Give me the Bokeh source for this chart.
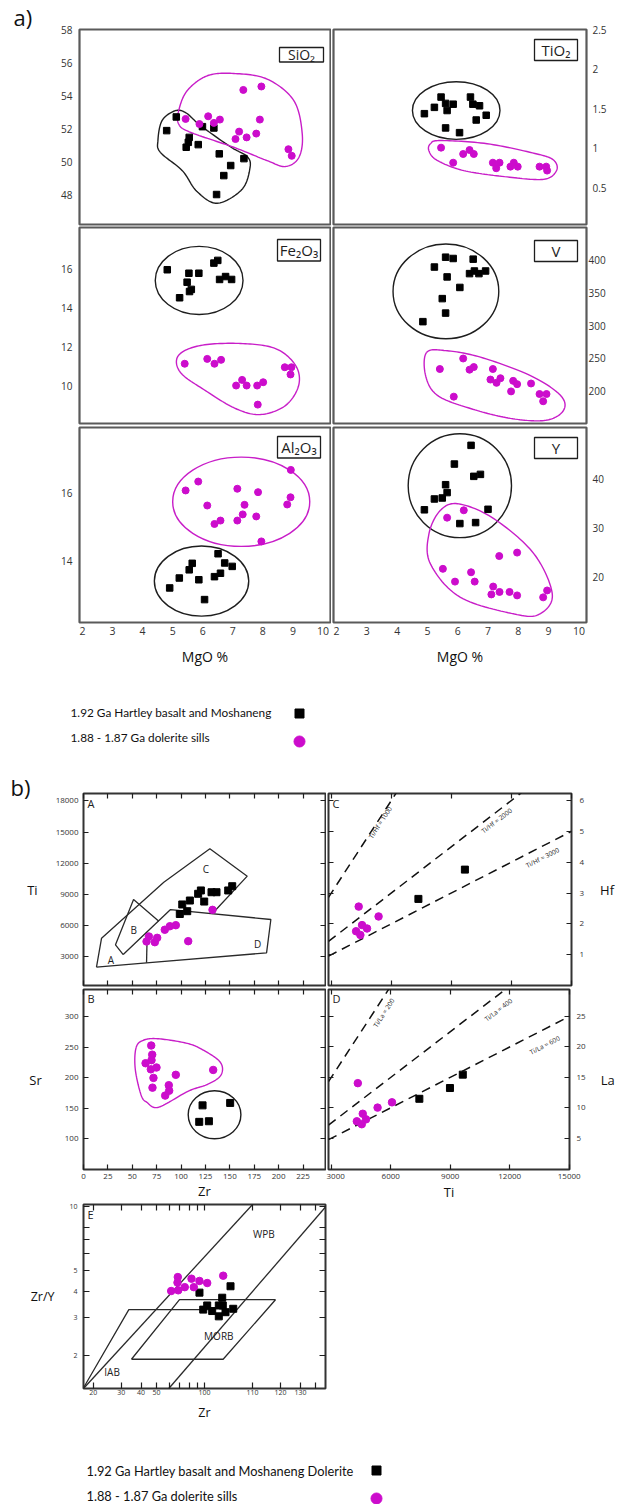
import math
import numpy as np
from bokeh.plotting import figure
from bokeh.models import Range1d, FixedTicker, LinearAxis, LogAxis, Label, BoxAnnotation
from bokeh.layouts import column, row
from bokeh.embed import file_html
from bokeh.resources import INLINE
from bokeh.core.properties import value

FONT = "Open Sans"
LEG_FONT = "Lato"
MAG = "#cc0ccc"
MAG_LINE = "#c81ec8"
INK = "#1e1e1e"
FRAME_A = "#5a5a5a"
FRAME_B = "#333333"

# ===================== a) oxides / trace elements vs MgO % =====================
MGO_RANGE = (1.9, 10.25)
MGO_TICKS = [2, 3, 4, 5, 6, 7, 8, 9, 10]

sio2_blk_mgo = [4.80, 5.12, 5.55, 5.52, 5.45, 5.85, 5.99, 6.37, 6.55, 6.93, 6.70, 7.37, 6.46]
sio2_blk = [51.88, 52.71, 51.47, 51.17, 50.87, 51.03, 52.12, 52.04, 50.47, 49.76, 49.15, 50.18, 48.00]
sio2_mag_mgo = [5.43, 5.89, 6.18, 6.37, 6.57, 7.35, 7.95, 7.21, 7.09, 7.46, 7.78, 7.90, 8.85, 8.96]
sio2_mag = [52.59, 52.28, 52.75, 52.35, 52.55, 54.35, 54.56, 51.82, 51.37, 51.47, 51.70, 52.55, 50.75, 50.35]
sio2_blk_env_x = [5.09, 5.45, 5.93, 6.92, 7.48, 7.57, 7.30, 6.48, 5.80, 5.32, 4.59, 4.51, 4.65]
sio2_blk_env_y = [53.09, 52.95, 52.18, 50.90, 50.30, 49.60, 48.30, 47.47, 48.20, 49.45, 50.56, 51.30, 52.50]
sio2_mag_env_x = [5.20, 5.59, 7.03, 8.14, 8.75, 9.20, 9.31, 9.03, 8.14, 7.03, 6.15, 5.48, 5.20]
sio2_mag_env_y = [52.28, 51.78, 50.87, 50.06, 49.70, 50.26, 51.68, 53.70, 55.01, 55.35, 55.21, 54.30, 53.09]
sio2_ticks = [48, 50, 52, 54, 56, 58]

tio2_blk_mgo = [4.90, 5.23, 5.45, 5.60, 5.85, 5.65, 5.60, 6.06, 6.42, 6.50, 6.72, 6.94, 6.61]
tio2_blk = [1.44, 1.52, 1.65, 1.57, 1.56, 1.48, 1.26, 1.20, 1.65, 1.56, 1.54, 1.42, 1.36]
tio2_mag_mgo = [5.45, 5.85, 6.18, 6.39, 6.53, 7.16, 7.27, 7.38, 7.74, 7.85, 7.98, 8.70, 8.92, 8.95]
tio2_mag = [1.01, 0.82, 0.93, 0.98, 0.93, 0.82, 0.75, 0.82, 0.77, 0.82, 0.77, 0.77, 0.77, 0.72]
tio2_blk_ell = (5.95, 1.48, 2.89, 0.73)
tio2_mag_env_x = [5.10, 5.43, 6.97, 8.62, 9.17, 9.26, 8.84, 7.63, 6.20, 5.32, 5.05]
tio2_mag_env_y = [1.06, 1.10, 1.06, 0.93, 0.85, 0.72, 0.61, 0.64, 0.72, 0.85, 0.97]
tio2_ticks = [0.5, 1.0, 1.5, 2.0, 2.5]
tio2_tick_labels = ["0.5", "1", "1.5", "2", "2.5"]

fe_blk_mgo = [4.82, 5.23, 5.48, 5.54, 5.87, 5.56, 5.62, 6.37, 6.50, 6.56, 6.76, 6.96]
fe_blk = [15.95, 14.51, 15.31, 15.77, 15.77, 14.83, 14.94, 16.29, 16.43, 15.45, 15.60, 15.45]
fe_mag_mgo = [5.40, 6.15, 6.39, 6.61, 7.31, 7.11, 7.46, 7.81, 8.01, 8.73, 8.95, 8.92, 7.83]
fe_mag = [11.12, 11.37, 11.12, 11.32, 10.29, 10.00, 10.00, 10.00, 10.17, 10.94, 10.94, 10.57, 9.02]
fe_blk_ell = (5.88, 15.40, 2.92, 3.50)
fe_mag_env_x = [5.19, 5.93, 7.26, 8.42, 9.09, 9.19, 8.75, 7.92, 7.09, 6.09, 5.26]
fe_mag_env_y = [11.54, 12.06, 12.16, 11.90, 11.03, 10.00, 8.97, 8.51, 8.82, 9.74, 10.67]
fe_ticks = [10, 12, 14, 16]

v_blk_mgo = [4.85, 5.23, 5.49, 5.60, 5.65, 5.60, 5.85, 6.07, 6.51, 6.39, 6.55, 6.70, 6.92]
v_blk = [306, 389, 341, 319, 374, 404, 402, 358, 401, 379, 383, 379, 383]
v_mag_mgo = [5.41, 6.18, 6.39, 6.53, 7.16, 7.08, 7.28, 7.41, 7.83, 7.96, 7.76, 8.42, 8.70, 8.93, 5.87, 8.82]
v_mag = [234, 250, 233, 237, 234, 218, 213, 220, 216, 211, 200, 212, 196, 196, 192, 185]
v_blk_ell = (5.61, 352, 3.49, 144)
v_mag_env_x = [4.97, 5.60, 6.75, 8.40, 9.39, 9.49, 8.90, 7.74, 6.42, 5.33, 4.94]
v_mag_env_y = [259, 262, 252, 224, 194, 171, 156, 159, 174, 194, 224]
v_ticks = [200, 250, 300, 350, 400]

al_blk_mgo = [4.90, 5.22, 5.55, 5.65, 5.87, 6.06, 6.39, 6.51, 6.59, 6.73, 6.98]
al_blk = [13.22, 13.51, 13.75, 13.94, 13.46, 12.88, 13.55, 14.22, 13.65, 13.95, 13.85]
al_mag_mgo = [5.43, 5.85, 6.15, 6.39, 6.59, 7.15, 7.15, 7.33, 7.39, 7.78, 7.84, 7.95, 8.81, 8.92, 8.93]
al_mag = [16.07, 16.33, 15.63, 15.09, 15.19, 16.12, 15.19, 15.37, 15.65, 15.31, 16.02, 14.58, 15.66, 15.87, 16.67]
al_blk_ell = (5.96, 13.42, 3.14, 2.05)
al_mag_ell = (7.28, 15.74, 4.56, 2.61)
al_ticks = [14, 16]

y_blk_mgo = [4.90, 5.23, 5.49, 5.60, 5.65, 5.89, 6.07, 6.44, 6.53, 6.75, 6.59, 7.00]
y_blk = [33.7, 35.9, 36.1, 38.8, 37.2, 43.0, 30.9, 46.8, 40.5, 40.9, 31.1, 33.8]
y_mag_mgo = [5.65, 6.20, 5.51, 5.91, 6.44, 6.56, 7.37, 7.96, 7.17, 7.11, 7.38, 7.71, 7.96, 8.82, 8.95]
y_mag = [32.1, 33.6, 21.7, 19.1, 21.0, 19.1, 24.3, 25.0, 18.1, 16.5, 17.0, 17.0, 16.3, 15.9, 17.3]
y_blk_ell = (6.07, 38.6, 3.41, 21.1)
y_mag_env_x = [6.04, 7.19, 8.51, 9.12, 8.73, 7.96, 6.09, 5.10, 5.05, 5.43]
y_mag_env_y = [34.9, 31.9, 24.8, 16.6, 12.6, 12.4, 15.9, 22.7, 28.8, 33.6]
y_ticks = [20, 30, 40]

legend_a_labels = ["1.92 Ga Hartley basalt and Moshaneng", "1.88 - 1.87 Ga dolerite sills"]

# ===================== b) discrimination diagrams =====================
ZR_RANGE = (0, 248)
zr_ticks = [0, 25, 50, 75, 100, 125, 150, 175, 200, 225]
TI_Y_RANGE = (203, 18723)
ti_y_ticks = [3000, 6000, 9000, 12000, 15000, 18000]
TI_X_RANGE = (2860, 15015)
ti_x_ticks = [3000, 6000, 9000, 12000, 15000]
HF_RANGE = (0, 6.23)
hf_ticks = [1, 2, 3, 4, 5, 6]
SR_RANGE = (50, 344.7)
sr_ticks = [100, 150, 200, 250, 300]
LA_RANGE = (-0.14, 29.44)
la_ticks = [5, 10, 15, 20, 25]

# A: Ti vs Zr
a_blk_zr = [98.7, 106.3, 101.2, 109.0, 117.5, 120.3, 123.7, 131.2, 136.3, 148.3, 152.4]
a_blk_ti = [7100, 7370, 8020, 8400, 9050, 9370, 8300, 9200, 9200, 9370, 9780]
a_mag_zr = [64.6, 67.0, 73.1, 75.5, 83.3, 88.5, 94.6, 107.3, 132.2]
a_mag_ti = [4450, 4930, 4380, 4800, 5580, 5920, 6020, 4480, 7500]
fieldA_xs = [[13.3, 18.5, 82.3, 129.5, 167.8, 133.3],
             [13.3, 64.6, 187.6, 192.0, 89.2, 40.7],
             [64.6, 65.3],
             [40.7, 32.8, 51.3, 77.2]]
fieldA_ys = [[1970, 4770, 10170, 13390, 10750, 7270],
             [1970, 2390, 3350, 6570, 7530, 3190],
             [2390, 5290],
             [3190, 4130, 8500, 6400]]
fieldA_names = ["A", "B", "C", "D"]
fieldA_name_zr = [28.0, 51.6, 125.4, 178.4]
fieldA_name_ti = [2680, 5575, 11460, 4225]

# B: Sr vs Zr
b_mag_zr = [69.4, 70.4, 69.7, 63.6, 69.0, 74.8, 71.7, 70.7, 87.4, 87.8, 83.7, 94.6, 132.9]
b_mag_sr = [253, 238, 229, 224, 214, 217, 200, 184, 188, 179, 171, 205, 213]
b_blk_zr = [122.0, 118.6, 128.5, 150.3]
b_blk_sr = [155, 128, 129, 159]
b_blk_ell = (134.3, 139.6, 54, 78.5)
b_mag_env_x = [54, 62, 77, 105, 121, 140, 141, 128, 107, 77, 65, 59, 53]
b_mag_env_y = [250, 262, 264, 257, 247, 226, 205, 190, 178, 152, 160, 172, 215]

# C: Hf vs Ti
c_mag_ti = [4370, 5365, 4538, 4787, 4240, 4454]
c_mag_hf = [2.56, 2.24, 1.96, 1.85, 1.76, 1.64]
c_blk_ti = [7357, 9683]
c_blk_hf = [2.81, 3.76]
hf_ratios = [1000, 2000, 3000]
hf_ratio_label_ti = [5450, 11276, 13567]
hf_ratio_label_hf = [5.29, 5.35, 4.15]

# D: La vs Ti
d_mag_ti = [4339, 6062, 5335, 4588, 4752, 4289, 4538]
d_mag_la = [14.05, 10.9, 10.03, 9.02, 8.1, 7.78, 7.3]
d_blk_ti = [7442, 8986, 9633]
d_blk_la = [11.48, 13.25, 15.45]
la_ratios = [200, 400, 600]
la_ratio_label_ti = [5649, 11426, 13766]
la_ratio_label_la = [25.6, 26.1, 20.3]

# E: Zr/Y vs Zr (log-log)
E_X_RANGE = (17.4, 575)
E_Y_RANGE = (1.4, 10.2)
e_x_ticks = [20, 30, 40, 50, 60, 70, 80, 90, 100, 200, 300, 400, 500]
e_x_tick_labels = ["20", "30", "40", "50", "", "", "", "", "100", "110", "120", "130", ""]
e_y_ticks = [2, 3, 4, 5, 6, 7, 8, 10]
e_y_tick_labels = ["2", "3", "4", "5", "", "", "", "10"]
e_mag_zr = [61.8, 68.0, 68.4, 67.7, 75.2, 82.9, 85.7, 93.0, 104.0, 131.1]
e_mag_zry = [4.01, 4.66, 4.04, 4.39, 4.18, 4.58, 4.18, 4.47, 4.37, 4.73]
e_blk_zr = [93.0, 98.2, 104.0, 111.8, 123.0, 129.2, 130.3, 123.0, 135.5, 151.5, 145.7]
e_blk_zry = [3.94, 3.28, 3.43, 3.23, 3.43, 3.73, 3.43, 3.05, 3.19, 3.31, 4.22]
fieldE_xs = [[17.4, 201], [59.7, 575], [17.3, 33.5, 106.5], [34.8, 69.7, 279, 131, 34.8]]
fieldE_ys = [[1.4, 10.23], [1.4, 9.93], [1.4, 3.28, 3.28], [1.92, 3.65, 3.65, 1.92, 1.92]]
fieldE_names = ["WPB", "MORB", "IAB"]
fieldE_name_zr = [236, 123, 26.3]
fieldE_name_zry = [7.38, 2.46, 1.67]

legend_b_labels = ["1.92 Ga Hartley basalt and Moshaneng Dolerite", "1.88 - 1.87 Ga dolerite sills"]


# ===================== helpers =====================
def smooth_closed(xs, ys, n=16):
    P = np.column_stack([xs, ys]).astype(float)
    m = len(P)
    out = []
    for i in range(m):
        p0, p1, p2, p3 = P[(i - 1) % m], P[i], P[(i + 1) % m], P[(i + 2) % m]
        for t in np.linspace(0, 1, n, endpoint=False):
            out.append(0.5 * ((2 * p1) + (-p0 + p2) * t + (2 * p0 - 5 * p1 + 4 * p2 - p3) * t * t
                              + (-p0 + 3 * p1 - 3 * p2 + p3) * t ** 3))
    out.append(out[0])
    out = np.array(out)
    return out[:, 0], out[:, 1]


def frame_xy(xr, yr, fw, fh, dx, dy, xlog=False, ylog=False):
    if xlog:
        l0, l1 = math.log10(xr[0]), math.log10(xr[1])
        x = 10 ** (l0 + dx / fw * (l1 - l0))
    else:
        x = xr[0] + dx / fw * (xr[1] - xr[0])
    if ylog:
        l0, l1 = math.log10(yr[0]), math.log10(yr[1])
        y = 10 ** (l1 - dy / fh * (l1 - l0))
    else:
        y = yr[1] - dy / fh * (yr[1] - yr[0])
    return x, y


def new_fig(w, h, xr, yr, mb, xlog=False, ylog=False):
    p = figure(width=w, height=h, x_range=Range1d(*xr), y_range=Range1d(*yr),
               x_axis_type="log" if xlog else "linear", y_axis_type="log" if ylog else "linear",
               x_axis_location=None, y_axis_location=None,
               toolbar_location=None, output_backend="svg",
               min_border_left=mb[0], min_border_right=mb[1], min_border_top=mb[2], min_border_bottom=mb[3],
               background_fill_color="white", border_fill_color="white")
    p.xgrid.visible = False
    p.ygrid.visible = False
    return p


def add_axis(p, side, ticks, show=True, font_size="10px", standoff=5, tick_in=0, tick_labels=None,
             label=None, label_size="13px", label_standoff=5, horizontal=False, log=False):
    cls = LogAxis if log else LinearAxis
    ax = cls(ticker=FixedTicker(ticks=ticks, minor_ticks=[]))
    ax.major_tick_in = tick_in
    ax.major_tick_out = 0
    ax.minor_tick_in = 0
    ax.minor_tick_out = 0
    ax.major_tick_line_color = INK
    ax.major_tick_line_width = 1.2
    ax.axis_line_color = None
    if show:
        ax.major_label_text_font = FONT
        ax.major_label_text_font_size = font_size
        ax.major_label_text_color = "#333333"
        ax.major_label_standoff = standoff
        if tick_labels is not None:
            ax.major_label_overrides = {float(t): s for t, s in zip(ticks, tick_labels)}
    else:
        ax.major_label_text_font_size = "0px"
        ax.major_label_text_color = None
        ax.major_label_standoff = 0
    if label:
        ax.axis_label = label
        ax.axis_label_text_font = FONT
        ax.axis_label_text_font_size = label_size
        ax.axis_label_text_font_style = "normal"
        ax.axis_label_text_color = "#111111"
        ax.axis_label_standoff = label_standoff
        if horizontal:
            ax.axis_label_orientation = "horizontal"
    p.add_layout(ax, side)
    return ax


def panel_title(p, text, offset, standoff):
    p.title.text = text
    p.title.text_font = FONT
    p.title.text_font_size = "22px"
    p.title.text_font_style = "normal"
    p.title.text_color = "#111111"
    p.title.align = "left"
    p.title.offset = offset
    p.title.standoff = standoff
    p.title.vertical_align = "bottom"


def a_panel(w, h, mb, yr, yticks, side, standoff, blk, mag, envs, box, bottom=False, tick_labels=None):
    p = new_fig(w, h, MGO_RANGE, yr, mb)
    p.outline_line_color = FRAME_A
    p.outline_line_width = 2.2
    add_axis(p, side, yticks, font_size="10px", standoff=standoff, tick_labels=tick_labels)
    if bottom:
        add_axis(p, "below", MGO_TICKS, font_size="10.5px", standoff=4, label="MgO %",
                 label_size="14px", label_standoff=9)
    for kind, color, data in envs:
        if kind == "ell":
            cx, cy, ew, eh = data
            p.ellipse(x=[cx], y=[cy], width=[ew], height=[eh], fill_color=None,
                      line_color=color, line_width=1.4)
        else:
            xs, ys = smooth_closed(*data)
            p.line(xs, ys, line_color=color, line_width=1.4)
    p.scatter(blk[0], blk[1], marker="square", size=6.5, color="black")
    p.scatter(mag[0], mag[1], marker="circle", size=7, color=MAG)
    fw = w - mb[0] - mb[1]
    fh = h - mb[2] - mb[3]
    text, rin, tin, bw, bh, fs = box
    x1, y1 = frame_xy(MGO_RANGE, yr, fw, fh, fw - rin, tin)
    x0, y0 = frame_xy(MGO_RANGE, yr, fw, fh, fw - rin - bw, tin + bh)
    p.add_layout(BoxAnnotation(left=x0, right=x1, bottom=y0, top=y1, fill_color="white", fill_alpha=1.0,
                               line_color=INK, line_alpha=1.0, line_width=1.3))
    p.add_layout(Label(x=(x0 + x1) / 2, y=(y0 + y1) / 2, text=text, text_align="center",
                       text_baseline="middle", text_font=FONT, text_font_size=fs, text_color=INK))
    return p


def canvas(w, h):
    p = figure(width=w, height=h, x_range=Range1d(0, w), y_range=Range1d(0, h),
               x_axis_location=None, y_axis_location=None, toolbar_location=None,
               output_backend="svg", min_border=0, outline_line_color=None)
    p.xgrid.visible = False
    p.ygrid.visible = False
    return p


# ===================== a) panels =====================
LW, RW = 331, 286
MB_L1, MB_R1 = (79, 1, 29, 2), (2, 31, 29, 2)
MB_L2, MB_R2 = (79, 1, 1, 2), (2, 31, 1, 2)
MB_L3, MB_R3 = (79, 1, 2, 68), (2, 31, 2, 68)

f_sio2 = a_panel(LW, 226, MB_L1, (46.18, 58.02), sio2_ticks, "left", 7,
                 (sio2_blk_mgo, sio2_blk), (sio2_mag_mgo, sio2_mag),
                 [("poly", INK, (sio2_blk_env_x, sio2_blk_env_y)),
                  ("poly", MAG_LINE, (sio2_mag_env_x, sio2_mag_env_y))],
                 ("SiO₂", 7, 18, 44, 14.5, "14px"))
panel_title(f_sio2, "a)", -66, -5)

f_tio2 = a_panel(RW, 226, MB_R1, (0.038, 2.505), tio2_ticks, "right", 6,
                 (tio2_blk_mgo, tio2_blk), (tio2_mag_mgo, tio2_mag),
                 [("ell", INK, tio2_blk_ell), ("poly", MAG_LINE, (tio2_mag_env_x, tio2_mag_env_y))],
                 ("TiO₂", 9, 10, 43, 21, "15px"), tick_labels=tio2_tick_labels)

f_fe = a_panel(LW, 199, MB_L2, (8.05, 18.12), fe_ticks, "left", 7,
               (fe_blk_mgo, fe_blk), (fe_mag_mgo, fe_mag),
               [("ell", INK, fe_blk_ell), ("poly", MAG_LINE, (fe_mag_env_x, fe_mag_env_y))],
               ("Fe₂O₃", 10, 12, 43, 21.5, "15px"))

f_v = a_panel(RW, 199, MB_R2, (151.2, 449.1), v_ticks, "right", 2,
              (v_blk_mgo, v_blk), (v_mag_mgo, v_mag),
              [("ell", INK, v_blk_ell), ("poly", MAG_LINE, (v_mag_env_x, v_mag_env_y))],
              ("V", 9, 13, 43, 21, "15px"))

f_al = a_panel(LW, 265, MB_L3, (12.21, 17.91), al_ticks, "left", 7,
               (al_blk_mgo, al_blk), (al_mag_mgo, al_mag),
               [("ell", INK, al_blk_ell), ("ell", MAG_LINE, al_mag_ell)],
               ("Al₂O₃", 10, 9, 43, 21.5, "15px"), bottom=True)

f_y = a_panel(RW, 265, MB_R3, (10.79, 50.43), y_ticks, "right", 6,
              (y_blk_mgo, y_blk), (y_mag_mgo, y_mag),
              [("ell", INK, y_blk_ell), ("poly", MAG_LINE, (y_mag_env_x, y_mag_env_y))],
              ("Y", 9, 10, 43, 21, "15px"), bottom=True)

# legend a)   (page rows 690 .. 768)
leg_a = canvas(617, 78)
leg_a.text(x=[70, 70], y=[56, 31], text=legend_a_labels, text_font=value(LEG_FONT),
           text_font_size="11.8px", text_baseline="middle", text_color="#111111")
leg_a.scatter(x=[299], y=[55], marker="square", size=9, color="black")
leg_a.scatter(x=[299], y=[27], marker="circle", size=11, color=MAG)

# ===================== b) panels =====================
BLW, BRW = 326, 291
MB_A, MB_C = (83, 1, 25, 3), (2, 45, 25, 3)
MB_B, MB_D = (83, 1, 1, 30), (2, 45, 1, 30)
TICK_IN = 5


def b_frame(p):
    p.outline_line_color = FRAME_B
    p.outline_line_width = 2


def corner_letter(p, xr, yr, fw, fh, letter, xlog=False, ylog=False):
    x, y = frame_xy(xr, yr, fw, fh, 4, 2, xlog, ylog)
    p.add_layout(Label(x=x, y=y, text=letter, text_baseline="top", text_align="left",
                       text_font=FONT, text_font_size="11px", text_color="#222222"))


# --- A: Ti vs Zr
fA = new_fig(BLW, 220, ZR_RANGE, TI_Y_RANGE, MB_A)
b_frame(fA)
add_axis(fA, "left", ti_y_ticks, font_size="8px", standoff=5, tick_in=TICK_IN,
         label="Ti", label_size="13px", label_standoff=15, horizontal=True)
add_axis(fA, "right", ti_y_ticks, show=False, tick_in=TICK_IN)
add_axis(fA, "below", zr_ticks, show=False, tick_in=TICK_IN)
add_axis(fA, "above", zr_ticks, show=False, tick_in=TICK_IN)
fA.multi_line(fieldA_xs, fieldA_ys, line_color="#2a2a2a", line_width=1.3)
for nm, zx, ty in zip(fieldA_names, fieldA_name_zr, fieldA_name_ti):
    fA.add_layout(Label(x=zx, y=ty, text=nm, text_align="center", text_baseline="middle",
                        text_font=FONT, text_font_size="10px", text_color="#222222"))
fA.scatter(a_blk_zr, a_blk_ti, marker="square", size=7, color="black")
fA.scatter(a_mag_zr, a_mag_ti, marker="circle", size=7.5, color=MAG)
corner_letter(fA, ZR_RANGE, TI_Y_RANGE, 242, 192, "A")
panel_title(fA, "b)", -73, -16)

# --- C: Hf vs Ti
fC = new_fig(BRW, 220, TI_X_RANGE, HF_RANGE, MB_C)
b_frame(fC)
add_axis(fC, "right", hf_ticks, font_size="8px", standoff=8, tick_in=TICK_IN,
         label="Hf", label_size="13px", label_standoff=13, horizontal=True)
add_axis(fC, "left", hf_ticks, show=False, tick_in=TICK_IN)
add_axis(fC, "below", ti_x_ticks, show=False, tick_in=TICK_IN)
add_axis(fC, "above", ti_x_ticks, show=False, tick_in=TICK_IN)
ti_span = np.array(TI_X_RANGE, dtype=float)
px_x_c = 244 / (TI_X_RANGE[1] - TI_X_RANGE[0])
px_y_c = 192 / (HF_RANGE[1] - HF_RANGE[0])
for k, lx, ly in zip(hf_ratios, hf_ratio_label_ti, hf_ratio_label_hf):
    fC.line(ti_span, ti_span / k, line_color="#111111", line_width=1.5, line_dash="9 6")
    ang = math.atan((px_y_c / k) / px_x_c)
    fC.add_layout(Label(x=lx, y=ly, text="Ti/Hf = %d" % k, angle=ang, text_align="center",
                        text_baseline="middle", text_font=FONT, text_font_size="6.5px",
                        text_color="#222222"))
fC.scatter(c_blk_ti, c_blk_hf, marker="square", size=7, color="black")
fC.scatter(c_mag_ti, c_mag_hf, marker="circle", size=7.5, color=MAG)
corner_letter(fC, TI_X_RANGE, HF_RANGE, 244, 192, "C")

# --- B: Sr vs Zr
fB = new_fig(BLW, 215, ZR_RANGE, SR_RANGE, MB_B)
b_frame(fB)
add_axis(fB, "left", sr_ticks, font_size="8px", standoff=5, tick_in=TICK_IN,
         label="Sr", label_size="13px", label_standoff=20, horizontal=True)
add_axis(fB, "right", sr_ticks, show=False, tick_in=TICK_IN)
add_axis(fB, "below", zr_ticks, font_size="8px", standoff=4, tick_in=TICK_IN,
         label="Zr", label_size="13px", label_standoff=0)
add_axis(fB, "above", zr_ticks, show=False, tick_in=TICK_IN)
bx, by = smooth_closed(b_mag_env_x, b_mag_env_y)
fB.line(bx, by, line_color=MAG_LINE, line_width=1.4)
fB.ellipse(x=[b_blk_ell[0]], y=[b_blk_ell[1]], width=[b_blk_ell[2]], height=[b_blk_ell[3]],
           fill_color=None, line_color=INK, line_width=1.4)
fB.scatter(b_blk_zr, b_blk_sr, marker="square", size=7, color="black")
fB.scatter(b_mag_zr, b_mag_sr, marker="circle", size=7.5, color=MAG)
corner_letter(fB, ZR_RANGE, SR_RANGE, 242, 184, "B")

# --- D: La vs Ti
fD = new_fig(BRW, 215, TI_X_RANGE, LA_RANGE, MB_D)
b_frame(fD)
add_axis(fD, "right", la_ticks, font_size="8px", standoff=7, tick_in=TICK_IN,
         label="La", label_size="13px", label_standoff=12, horizontal=True)
add_axis(fD, "left", la_ticks, show=False, tick_in=TICK_IN)
add_axis(fD, "below", ti_x_ticks, font_size="8px", standoff=4, tick_in=TICK_IN,
         label="Ti", label_size="13px", label_standoff=1)
add_axis(fD, "above", ti_x_ticks, show=False, tick_in=TICK_IN)
px_y_d = 184 / (LA_RANGE[1] - LA_RANGE[0])
for k, lx, ly in zip(la_ratios, la_ratio_label_ti, la_ratio_label_la):
    fD.line(ti_span, ti_span / k, line_color="#111111", line_width=1.5, line_dash="9 6")
    ang = math.atan((px_y_d / k) / px_x_c)
    fD.add_layout(Label(x=lx, y=ly, text="Ti/La = %d" % k, angle=ang, text_align="center",
                        text_baseline="middle", text_font=FONT, text_font_size="6.5px",
                        text_color="#222222"))
fD.scatter(d_blk_ti, d_blk_la, marker="square", size=7, color="black")
fD.scatter(d_mag_ti, d_mag_la, marker="circle", size=7.5, color=MAG)
corner_letter(fD, TI_X_RANGE, LA_RANGE, 244, 184, "D")

# --- E: Zr/Y vs Zr
fE = new_fig(617, 222, E_X_RANGE, E_Y_RANGE, (83, 292, 1, 37), xlog=True, ylog=True)
b_frame(fE)
add_axis(fE, "left", e_y_ticks, font_size="7px", standoff=6, tick_in=6, tick_labels=e_y_tick_labels,
         label="Zr/Y", label_size="12.5px", label_standoff=12, horizontal=True, log=True)
add_axis(fE, "right", e_y_ticks, show=False, tick_in=6, log=True)
add_axis(fE, "below", e_x_ticks, font_size="7px", standoff=1, tick_in=6, tick_labels=e_x_tick_labels,
         label="Zr", label_size="12.5px", label_standoff=6, log=True)
add_axis(fE, "above", e_x_ticks, show=False, tick_in=6, log=True)
fE.multi_line(fieldE_xs, fieldE_ys, line_color="#2a2a2a", line_width=1.3)
for nm, zx, zy in zip(fieldE_names, fieldE_name_zr, fieldE_name_zry):
    fE.add_layout(Label(x=zx, y=zy, text=nm, text_align="center", text_baseline="middle",
                        text_font=FONT, text_font_size="10px", text_color="#222222"))
fE.scatter(e_blk_zr, e_blk_zry, marker="square", size=7, color="black")
fE.scatter(e_mag_zr, e_mag_zry, marker="circle", size=7.5, color=MAG)
corner_letter(fE, E_X_RANGE, E_Y_RANGE, 242, 184, "E", xlog=True, ylog=True)

# legend b)
leg_b = canvas(617, 79)
leg_b.text(x=[86, 86], y=[34, 9], text=legend_b_labels, text_font=value(LEG_FONT),
           text_font_size="12.8px", text_baseline="middle", text_color="#111111")
leg_b.scatter(x=[376], y=[34], marker="square", size=9, color="black")
leg_b.scatter(x=[376], y=[6], marker="circle", size=11, color=MAG)

layout = column(row(f_sio2, f_tio2), row(f_fe, f_v), row(f_al, f_y), row(leg_a),
                row(fA, fC), row(fB, fD), row(fE), row(leg_b))

open("out.html", "w").write(file_html(layout, INLINE))
